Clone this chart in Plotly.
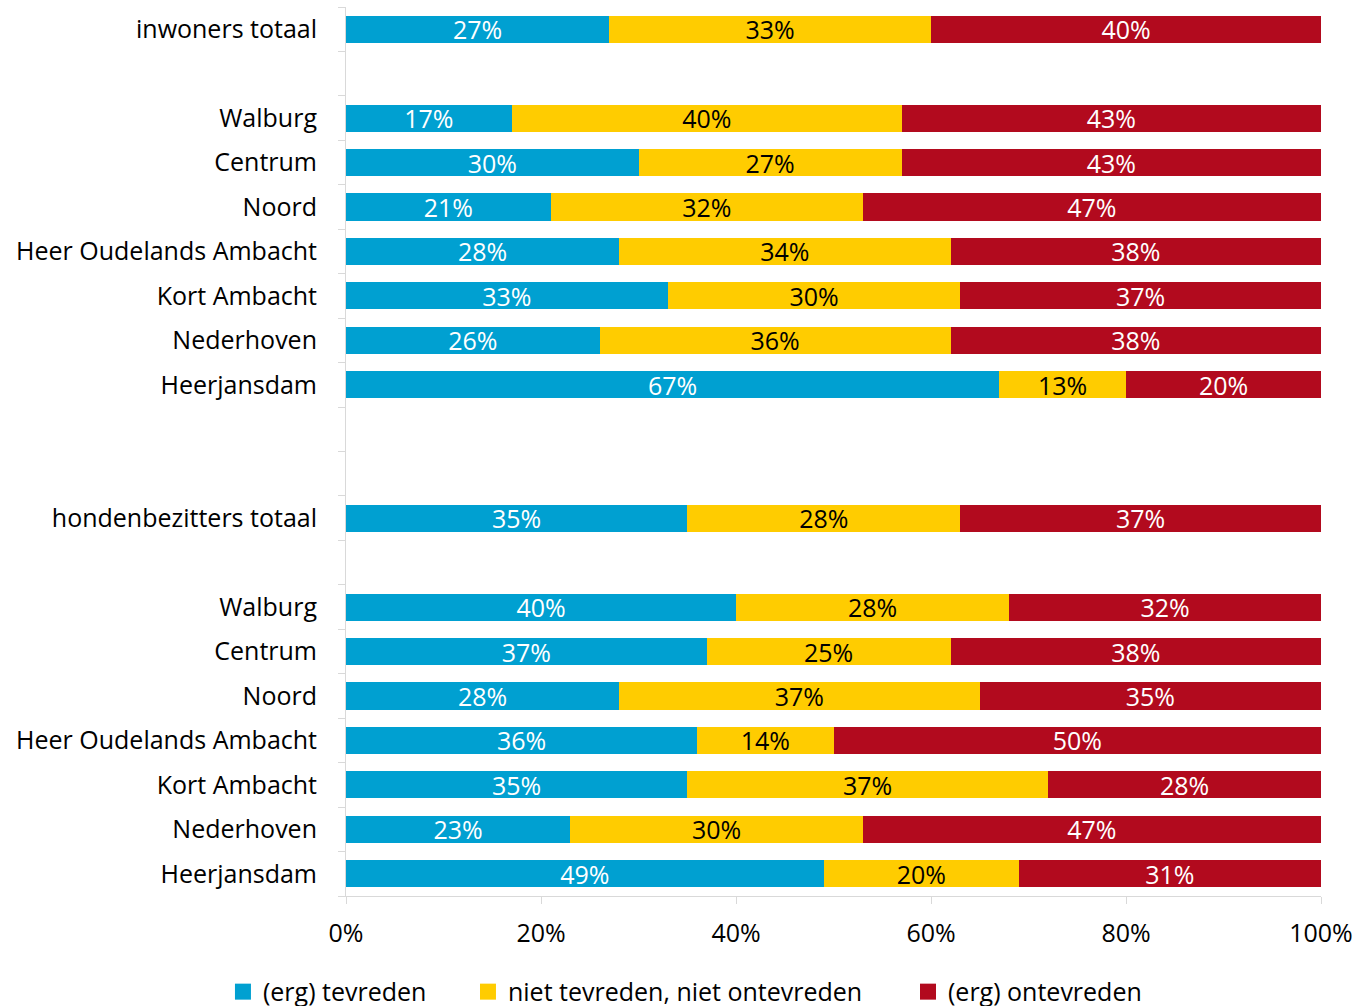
import plotly.graph_objects as go

labels = ["inwoners totaal", "", "Walburg", "Centrum", "Noord", "Heer Oudelands Ambacht",
          "Kort Ambacht", "Nederhoven", "Heerjansdam", "", "", "hondenbezitters totaal", "",
          "Walburg", "Centrum", "Noord", "Heer Oudelands Ambacht", "Kort Ambacht",
          "Nederhoven", "Heerjansdam"]
tevreden = [27, None, 17, 30, 21, 28, 33, 26, 67, None, None, 35, None, 40, 37, 28, 36, 35, 23, 49]
neutraal = [33, None, 40, 27, 32, 34, 30, 36, 13, None, None, 28, None, 28, 25, 37, 14, 37, 30, 20]
ontevreden = [40, None, 43, 43, 47, 38, 37, 38, 20, None, None, 37, None, 32, 38, 35, 50, 28, 47, 31]
series_names = ["(erg) tevreden", "niet tevreden, niet ontevreden", "(erg) ontevreden"]
colors = ["#00A0D1", "#FFCC00", "#B20A1E"]
text_colors = ["white", "black", "white"]
x_ticks = [0, 20, 40, 60, 80, 100]

FONT = "Open Sans"
ypos = list(range(len(labels)))
legend_ids = ["legend", "legend2", "legend3"]
legend_x = [-0.1262, 0.1251, 0.5764]

fig = go.Figure()
for name, vals, col, tcol, lid in zip(series_names, [tevreden, neutraal, ontevreden], colors, text_colors, legend_ids):
    fig.add_trace(go.Bar(
        y=ypos, x=vals, orientation="h", name=name, showlegend=False,
        marker=dict(color=col, line=dict(width=0)),
        text=[f"{v}%" if v is not None else "" for v in vals],
        textposition="inside", insidetextanchor="middle",
        textfont=dict(color=tcol, size=25, family=FONT),
        constraintext="none",
        hoverinfo="skip",
    ))
    fig.add_trace(go.Scatter(
        x=[None], y=[None], mode="markers", name=name, legend=lid, showlegend=True,
        marker=dict(symbol="square", size=17, color=col), hoverinfo="skip",
    ))

tv = [i for i, l in enumerate(labels) if l]
tt = [labels[i] for i in tv]

leg_common = dict(orientation="h", yanchor="top", y=-0.082, xanchor="left",
                  font=dict(size=25, family=FONT), itemwidth=30, bgcolor="rgba(0,0,0,0)")
fig.update_layout(
    barmode="stack", bargap=0.39,
    width=1361, height=1006,
    margin=dict(l=346, r=40, t=7, b=110, autoexpand=False),
    plot_bgcolor="white", paper_bgcolor="white",
    font=dict(family=FONT, size=25, color="black"),
    showlegend=True,
    legend=dict(x=legend_x[0], **leg_common),
    legend2=dict(x=legend_x[1], **leg_common),
    legend3=dict(x=legend_x[2], **leg_common),
)
fig.update_yaxes(
    range=[len(labels) - 0.5, -0.5], tickmode="array", tickvals=tv, ticktext=tt,
    ticks="", showline=True, linecolor="#D9D9D9", linewidth=1, showgrid=False,
    zeroline=False, ticklabelstandoff=23, automargin=False,
    minor=dict(ticks="outside", tick0=0.5, dtick=1, ticklen=7, tickcolor="#D9D9D9", showgrid=False),
    tickfont=dict(size=25, family=FONT),
)
fig.update_xaxes(
    range=[0, 100], tickmode="array", tickvals=x_ticks, ticktext=[f"{t}%" for t in x_ticks],
    ticks="outside", ticklen=7, tickcolor="#D9D9D9", showline=True, linecolor="#D9D9D9",
    showgrid=False, zeroline=False, tickfont=dict(size=25, family=FONT),
    ticklabelstandoff=8, automargin=False,
)
fig.write_html("out.html", config={"displayModeBar": False},
               post_script="document.body.style.margin='0px';document.body.style.overflow='hidden';")
